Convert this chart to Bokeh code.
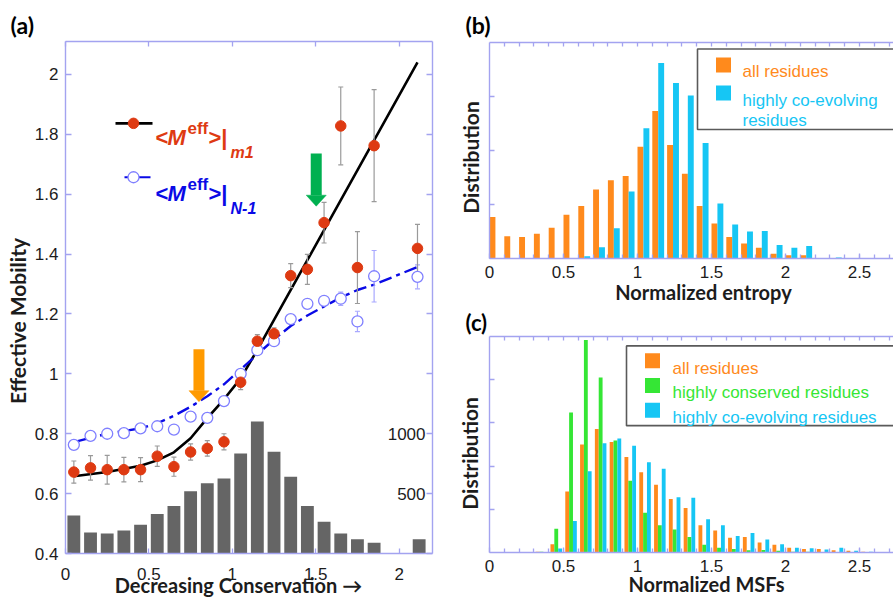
import numpy as np
from bokeh.plotting import figure
from bokeh.layouts import row, column
from bokeh.models import Range1d, LinearAxis, FixedTicker, Label, ColumnDataSource, Title
from bokeh.core.properties import value
from bokeh.embed import file_html
from bokeh.resources import INLINE

# ---------------- panel (a) data ----------------
cons_x = [0.05, 0.15, 0.25, 0.35, 0.45, 0.55, 0.65, 0.75, 0.85, 0.95,
          1.05, 1.15, 1.25, 1.35, 1.45, 1.55, 1.65, 1.75, 1.85, 2.11]
m1_mean = [0.672, 0.686, 0.680, 0.680, 0.680, 0.725, 0.690, 0.739, 0.751, 0.773,
           0.972, 1.109, 1.134, 1.328, 1.349, 1.505, 1.828, 1.355, 1.762, 1.419]
m1_err = [0.037, 0.041, 0.048, 0.041, 0.040, 0.034, 0.032, 0.027, 0.026, 0.027,
          0.025, 0.022, 0.020, 0.040, 0.050, 0.068, 0.130, 0.120, 0.187, 0.080]
n1_mean = [0.763, 0.793, 0.800, 0.802, 0.818, 0.825, 0.814, 0.857, 0.853, 0.909,
           1.000, 1.079, 1.109, 1.183, 1.234, 1.244, 1.251, 1.175, 1.326, 1.324]
n1_err = [0.008, 0.008, 0.008, 0.008, 0.008, 0.008, 0.008, 0.008, 0.008, 0.008,
          0.008, 0.010, 0.010, 0.010, 0.015, 0.012, 0.022, 0.034, 0.086, 0.040]
hist_x = [0.05, 0.15, 0.25, 0.35, 0.45, 0.55, 0.65, 0.75, 0.85, 0.95,
          1.05, 1.15, 1.25, 1.35, 1.45, 1.55, 1.65, 1.75, 1.85, 2.12]
hist_count = [318, 176, 168, 193, 240, 330, 397, 520, 587, 626,
              835, 1103, 849, 640, 397, 265, 168, 120, 89, 120]
m1_fit_x = [0.05, 0.25, 0.45, 0.55, 0.65, 0.75, 0.85, 0.95, 1.05, 1.15, 1.25, 2.11]
m1_fit_y = [0.658, 0.672, 0.693, 0.711, 0.738, 0.785, 0.852, 0.915, 0.985, 1.080, 1.180, 2.040]
n1_fit_x = [0.05, 0.25, 0.45, 0.55, 0.65, 0.75, 0.85, 0.95, 1.05, 1.15, 1.25, 1.35,
            1.45, 1.55, 1.65, 1.75, 1.85, 2.11]
n1_fit_y = [0.772, 0.800, 0.818, 0.835, 0.860, 0.890, 0.925, 0.965, 1.015, 1.065, 1.115, 1.160,
            1.195, 1.225, 1.255, 1.280, 1.298, 1.357]
arrow_x = [0.80, 1.503]
arrow_top = [1.082, 1.736]
arrow_tip = [0.907, 1.560]
arrow_colors = ["#ff9a00", "#00b050"]

a_xticks = [0, 0.5, 1, 1.5, 2]
a_xlabels = ["0", "0.5", "1", "1.5", "2"]
a_yticks = [0.4, 0.6, 0.8, 1, 1.2, 1.4, 1.6, 1.8, 2]
a_ylabels = ["0.4", "0.6", "0.8", "1", "1.2", "1.4", "1.6", "1.8", "2"]
count_ticks = [1000, 500]
count_labels = ["1000", "500"]

# ---------------- panel (b) data ----------------
ent_bins = [0.0, 0.1, 0.2, 0.3, 0.4, 0.5, 0.6, 0.7, 0.8, 0.9, 1.0, 1.1, 1.2, 1.3,
            1.4, 1.5, 1.6, 1.7, 1.8, 1.9, 2.0, 2.1, 2.2, 2.3, 2.4, 2.5]
ent_all = [0.77, 0.41, 0.40, 0.46, 0.57, 0.81, 0.97, 1.28, 1.45, 1.53, 2.07, 2.73, 2.10, 1.57,
           0.97, 0.65, 0.40, 0.28, 0.20, 0.09, 0.06, 0.06, 0.01, 0.005, 0.0, 0.0]
ent_coev = [0.0, 0.0, 0.0, 0.0, 0.0, 0.0, 0.04, 0.21, 0.56, 1.24, 2.41, 3.62, 3.25, 3.02,
            2.14, 1.02, 0.63, 0.50, 0.51, 0.25, 0.20, 0.23, 0.01, 0.02, 0.01, 0.005]

# ---------------- panel (c) data ----------------
msf_bins = [0.3, 0.4, 0.5, 0.6, 0.7, 0.8, 0.9, 1.0, 1.1, 1.2, 1.3, 1.4, 1.5, 1.6,
            1.7, 1.8, 1.9, 2.0, 2.1, 2.2, 2.3, 2.4, 2.5, 2.6]
msf_all = [0.02, 0.19, 1.41, 2.50, 2.86, 2.56, 2.21, 1.86, 1.57, 1.24, 1.03, 0.63, 0.51, 0.34,
           0.36, 0.23, 0.18, 0.11, 0.08, 0.08, 0.05, 0.04, 0.02, 0.01]
msf_cons = [0.02, 0.55, 3.24, 4.92, 4.05, 2.59, 1.66, 0.92, 0.63, 0.53, 0.36, 0.18, 0.11, 0.08,
            0.05, 0.06, 0.04, 0.02, 0.02, 0.01, 0.01, 0.01, 0.0, 0.0]
msf_coev = [0.0, 0.09, 0.73, 1.88, 2.53, 2.64, 2.47, 2.09, 1.94, 1.28, 1.27, 0.77, 0.63, 0.38,
            0.45, 0.30, 0.19, 0.11, 0.10, 0.07, 0.11, 0.04, 0.02, 0.01]

bc_xticks = [0, 0.5, 1, 1.5, 2, 2.5]
bc_xlabels = ["0", "0.5", "1", "1.5", "2", "2.5"]

# ---------------- styles ----------------
FRAME = "#a3a3f0"
TICKFONT = "Liberation Sans"
TFONT = "Lato"
TXT = "#1c1c1c"
ORANGE = "#ff8a1c"
CYAN = "#16c6f4"
GREEN = "#35e635"
RED = "#de3a12"
BLUE = "#0a0ae6"


def setup_axis(ax, ticks, tick_len, labels=None, minor=None, minor_len=0, standoff=6):
    ax.ticker = FixedTicker(ticks=list(ticks), minor_ticks=list(minor) if minor else [])
    ax.axis_line_color = FRAME
    ax.axis_line_width = 1.4
    ax.major_tick_line_color = FRAME
    ax.major_tick_line_width = 1.3
    ax.major_tick_in = tick_len
    ax.major_tick_out = 0
    if minor:
        ax.minor_tick_line_color = FRAME
        ax.minor_tick_line_width = 1.3
        ax.minor_tick_in = minor_len
        ax.minor_tick_out = 0
    else:
        ax.minor_tick_line_color = None
    if labels:
        ax.major_label_overrides = {t: l for t, l in zip(ticks, labels)}
        ax.major_label_text_font = TICKFONT
        ax.major_label_text_font_size = "17px"
        ax.major_label_text_color = TXT
        ax.major_label_standoff = standoff
    else:
        ax.major_label_text_font_size = "0px"
        ax.major_label_text_color = None
        ax.major_label_standoff = 0


def title_axis(p, side, pos, text, size, standoff, vertical=False):
    """Axis that carries only one text: the axis title, at a chosen place."""
    ax = LinearAxis(ticker=FixedTicker(ticks=[pos], minor_ticks=[]))
    ax.axis_line_color = None
    ax.major_tick_line_color = None
    ax.minor_tick_line_color = None
    ax.major_tick_in = 0
    ax.major_tick_out = 0
    ax.major_label_overrides = {pos: text}
    ax.major_label_text_font = TFONT
    ax.major_label_text_font_style = "bold"
    ax.major_label_text_font_size = f"{size}px"
    ax.major_label_text_color = TXT
    ax.major_label_standoff = standoff
    if vertical:
        ax.major_label_orientation = "parallel"
    p.add_layout(ax, side)


def add_label(p, x, y, text, size, color=TXT, font=TFONT, style="bold",
              align="left", baseline="alphabetic"):
    p.add_layout(Label(x=x, y=y, text=text, text_font=font, text_font_size=f"{size}px",
                       text_font_style=style, text_color=color, text_align=align,
                       text_baseline=baseline))


def make_fig(w, h, xr, yr, bl, br, bt, bb, letter, offset, standoff, lsize=23):
    t = Title(text=letter, align="left", offset=offset, standoff=standoff,
              text_font=TFONT, text_font_style="bold", text_font_size=f"{lsize}px",
              text_color="black")
    p = figure(width=w, height=h, x_range=xr, y_range=yr, output_backend="svg",
               toolbar_location=None, title=t, x_axis_location=None, y_axis_location=None,
               min_border_left=bl, min_border_right=br, min_border_top=bt, min_border_bottom=bb)
    p.outline_line_color = None
    p.background_fill_color = "white"
    p.border_fill_color = "white"
    p.xgrid.visible = False
    p.ygrid.visible = False
    return p

# ================= panel (a) =================
# frame: x 65..432, y 41..554 (canvas pixels)
pa = make_fig(440, 599, Range1d(0, 2.2), Range1d(0.4, 2.11), 65, 8, 41, 45, "(a)", -55, 5)
pa.extra_y_ranges = {"count": Range1d(0, (2.11 - 0.4) * 2500)}

def xa(px): return (px - 65) / (367 / 2.2)
def ya(py): return 0.4 + (554 - py) / 300.0

ax = LinearAxis(); setup_axis(ax, a_xticks, 5, a_xlabels, standoff=14); pa.add_layout(ax, "below")
title_axis(pa, "below", xa(238), "Decreasing Conservation \u2192", 20, -10)
ax = LinearAxis(); setup_axis(ax, a_xticks, 5); pa.add_layout(ax, "above")
ax = LinearAxis(); setup_axis(ax, a_yticks, 6, a_ylabels, standoff=7); pa.add_layout(ax, "left")
title_axis(pa, "left", ya(321), "Effective Mobility", 21, 1, vertical=True)
ax = LinearAxis(); setup_axis(ax, a_yticks, 6); pa.add_layout(ax, "right")

pa.vbar(x=hist_x, top=hist_count, bottom=0, width=0.077, y_range_name="count",
        fill_color="#656565", line_color=None)
pa.text(x=[pa.x_range.end] * len(count_ticks), y=count_ticks, text=count_labels,
        y_range_name="count", x_offset=-7, text_align="right", text_baseline="middle",
        text_font=value(TICKFONT), text_font_size=value("17px"), text_color=TXT)

pa.line(m1_fit_x, m1_fit_y, line_color="black", line_width=2.6)
pa.line(n1_fit_x, n1_fit_y, line_color=BLUE, line_width=2.4, line_dash="13 5 4 5")

m1 = np.array(m1_mean); m1e = np.array(m1_err)
n1 = np.array(n1_mean); n1e = np.array(n1_err)
src = ColumnDataSource(dict(x=cons_x, m1=m1, m1lo=m1 - m1e, m1hi=m1 + m1e,
                            n1=n1, n1lo=n1 - n1e, n1hi=n1 + n1e))
pa.segment(x0="x", y0="n1lo", x1="x", y1="n1hi", source=src, line_color="#a8a8ff", line_width=1.2)
pa.scatter(x="x", y="n1lo", source=src, marker="dash", size=5, line_color="#a8a8ff", line_width=1.2)
pa.scatter(x="x", y="n1hi", source=src, marker="dash", size=5, line_color="#a8a8ff", line_width=1.2)
pa.segment(x0="x", y0="m1lo", x1="x", y1="m1hi", source=src, line_color="#9a9a9a", line_width=1.2)
pa.scatter(x="x", y="m1lo", source=src, marker="dash", size=5, line_color="#9a9a9a", line_width=1.2)
pa.scatter(x="x", y="m1hi", source=src, marker="dash", size=5, line_color="#9a9a9a", line_width=1.2)
pa.scatter(x="x", y="n1", source=src, size=11, fill_color="white", line_color="#8080ff", line_width=1.3)
pa.scatter(x="x", y="m1", source=src, size=10.5, fill_color=RED, line_color=RED)

# block arrows
hw = 10 / (367 / 2.2)
hl = 11 / 300.0
heads_base = [t + hl for t in arrow_tip]
pa.segment(x0=arrow_x, y0=arrow_top, x1=arrow_x, y1=heads_base, line_color=arrow_colors,
           line_width=11, line_cap="butt")
pa.patches(xs=[[x - hw, x + hw, x] for x in arrow_x],
           ys=[[b, b, t] for b, t in zip(heads_base, arrow_tip)],
           fill_color=arrow_colors, line_color=arrow_colors, line_width=0.5)

# legend (a)
pa.line([xa(115), xa(152)], [ya(123), ya(123)], line_color="black", line_width=2.6)
pa.scatter([xa(133)], [ya(123)], size=10.5, fill_color=RED, line_color=RED)
pa.line([xa(124), xa(150)], [ya(177), ya(177)], line_color=BLUE, line_width=2.2)
pa.scatter([xa(133)], [ya(177)], size=11, fill_color="white", line_color="#8080ff", line_width=1.3)
for base, col, sub in [(137, RED, "m1"), (193, BLUE, "N-1")]:
    add_label(pa, xa(155), ya(base), "<", 22, col, TICKFONT, "bold")
    add_label(pa, xa(167), ya(base), "M", 22, col, TICKFONT, "bold italic")
    add_label(pa, xa(187), ya(base - 9), "eff", 17, col, TICKFONT, "bold")
    add_label(pa, xa(208), ya(base), ">|", 22, col, TICKFONT, "bold")
    add_label(pa, xa(230), ya(base + 15), sub, 16, col, TICKFONT, "bold italic")

# ================= panel (b) =================
# frame: x 489..893, y 42..258
XEND = 404 / 148.0
pb = make_fig(453, 306, Range1d(0, XEND), Range1d(0, 4), 49, 0, 42, 48, "(b)", -24, 8)
tenth = [round(0.1 * i, 1) for i in range(1, 28)]

def xb(px): return (px - 489) / 148.0
def yb(py): return (258 - py) / 54.0

ax = LinearAxis(); setup_axis(ax, bc_xticks, 5, bc_xlabels, minor=tenth, minor_len=4, standoff=7); pb.add_layout(ax, "below")
title_axis(pb, "below", xb(703), "Normalized entropy", 20, -1)
ax = LinearAxis(); setup_axis(ax, tenth, 4); pb.add_layout(ax, "above")
ax = LinearAxis(); setup_axis(ax, [1, 2, 3], 5); pb.add_layout(ax, "left")
title_axis(pb, "left", yb(157), "Distribution", 21, 7, vertical=True)

eb = np.array(ent_bins)
pb.vbar(x=eb + 0.02, top=ent_all, width=0.04, fill_color=ORANGE, line_color=None)
pb.vbar(x=eb + 0.06, top=ent_coev, width=0.04, fill_color=CYAN, line_color=None)

pb.quad(left=[xb(697)], right=[xb(960)], top=[yb(48.5)], bottom=[yb(129)],
        fill_color="white", line_color="#5a5a5a", line_width=1.6)
pb.scatter([xb(723), xb(723)], [yb(64.5), yb(92.5)], marker="square", size=15,
           fill_color=[ORANGE, CYAN], line_color=None)
add_label(pb, xb(742), yb(71), "all residues", 17, ORANGE, TICKFONT, "normal")
add_label(pb, xb(742), yb(99.5), "highly co-evolving", 17, CYAN, TICKFONT, "normal")
add_label(pb, xb(742), yb(120), "residues", 17, CYAN, TICKFONT, "normal")

# ================= panel (c) =================
# frame: x 489..893, y 334..552
pc = make_fig(453, 293, Range1d(0, XEND), Range1d(0, 5), 49, 0, 28, 47, "(c)", -24, 1, lsize=22)

def yc(py): return (552 - py) / 43.6

ax = LinearAxis(); setup_axis(ax, bc_xticks, 5, bc_xlabels, minor=tenth, minor_len=4, standoff=7); pc.add_layout(ax, "below")
title_axis(pc, "below", xb(706), "Normalized MSFs", 20, -3)
ax = LinearAxis(); setup_axis(ax, tenth, 4); pc.add_layout(ax, "above")
ax = LinearAxis(); setup_axis(ax, [1, 2, 3, 4], 5); pc.add_layout(ax, "left")
title_axis(pc, "left", yc(452), "Distribution", 21, 7, vertical=True)

mb = np.array(msf_bins)
pc.vbar(x=mb + 0.025, top=msf_all, width=0.026, fill_color=ORANGE, line_color=None)
pc.vbar(x=mb + 0.051, top=msf_cons, width=0.026, fill_color=GREEN, line_color=None)
pc.vbar(x=mb + 0.077, top=msf_coev, width=0.026, fill_color=CYAN, line_color=None)

pc.quad(left=[xb(626)], right=[xb(960)], top=[yc(343.5)], bottom=[yc(424)],
        fill_color="white", line_color="#5a5a5a", line_width=1.6)
pc.scatter([xb(652)] * 3, [yc(358.5), yc(383.5), yc(408.5)], marker="square", size=15,
           fill_color=[ORANGE, GREEN, CYAN], line_color=None)
add_label(pc, xb(672), yc(366), "all residues", 17, ORANGE, TICKFONT, "normal")
add_label(pc, xb(672), yc(391), "highly conserved residues", 17, GREEN, TICKFONT, "normal")
add_label(pc, xb(672), yc(416), "highly co-evolving residues", 17, CYAN, TICKFONT, "normal")

layout = row(pa, column(pb, pc, spacing=0), spacing=0)
open("out.html", "w").write(file_html(layout, INLINE))
